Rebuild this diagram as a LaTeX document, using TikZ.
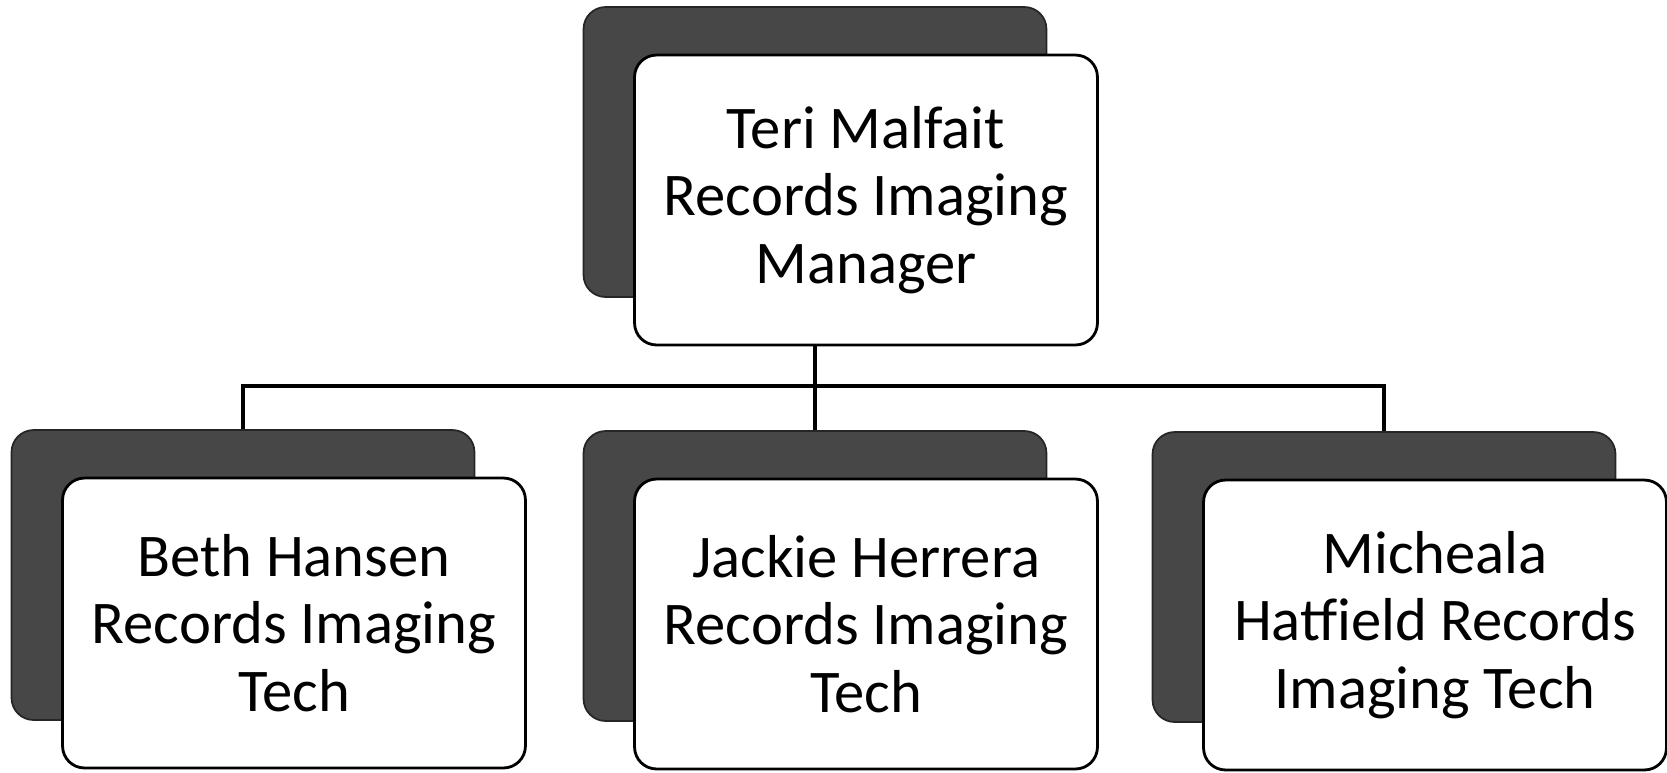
\documentclass[tikz,border=0pt]{standalone}
\usepackage{fontspec}
\setmainfont{Carlito}
\usetikzlibrary{positioning}

\tikzset{
  card/.style={draw, line width=1.6pt, fill=white, rounded corners=0.44cm,
    align=center, inner sep=0pt, minimum width=9.26cm, minimum height=5.8cm,
    font=\fontsize{34.5}{38.5}\selectfont},
  cardshadow/.style={draw=black!85, line width=1pt, fill=black!72, rounded corners=0.44cm,
    inner sep=0pt, minimum width=9.26cm, minimum height=5.8cm},
  link/.style={line width=1.8pt}
}

\begin{document}
\begin{tikzpicture}[x=0.02cm, y=-0.02cm]
\useasboundingbox (0,0) rectangle (1667,772);
% shadows behind the cards
\node[cardshadow] at (815,152) (mgrshadow) {};
\node[cardshadow] at (243,575) (bethshadow) {};
\node[cardshadow] at (815,576) (jackieshadow) {};
\node[cardshadow] at (1384,577) (michshadow) {};
% cards
\node[card] at (866,200) (mgr) {Teri Malfait\\Records Imaging\\Manager};
\node[card] at (294,623) (beth) {Beth Hansen\\Records Imaging\\Tech};
\node[card] at (866,624) (jackie) {Jackie Herrera\\Records Imaging\\Tech};
\node[card] at (1435,625) (mich) {Micheala\\Hatfield Records\\Imaging Tech};
% connectors
\coordinate (bus) at (815,386);
\draw[link] (bus |- mgr.south) -- (bus);
\draw[link] (bethshadow.north) |- (bus) -| (michshadow.north);
\draw[link] (bus) -- (jackieshadow.north);
\end{tikzpicture}
\end{document}
